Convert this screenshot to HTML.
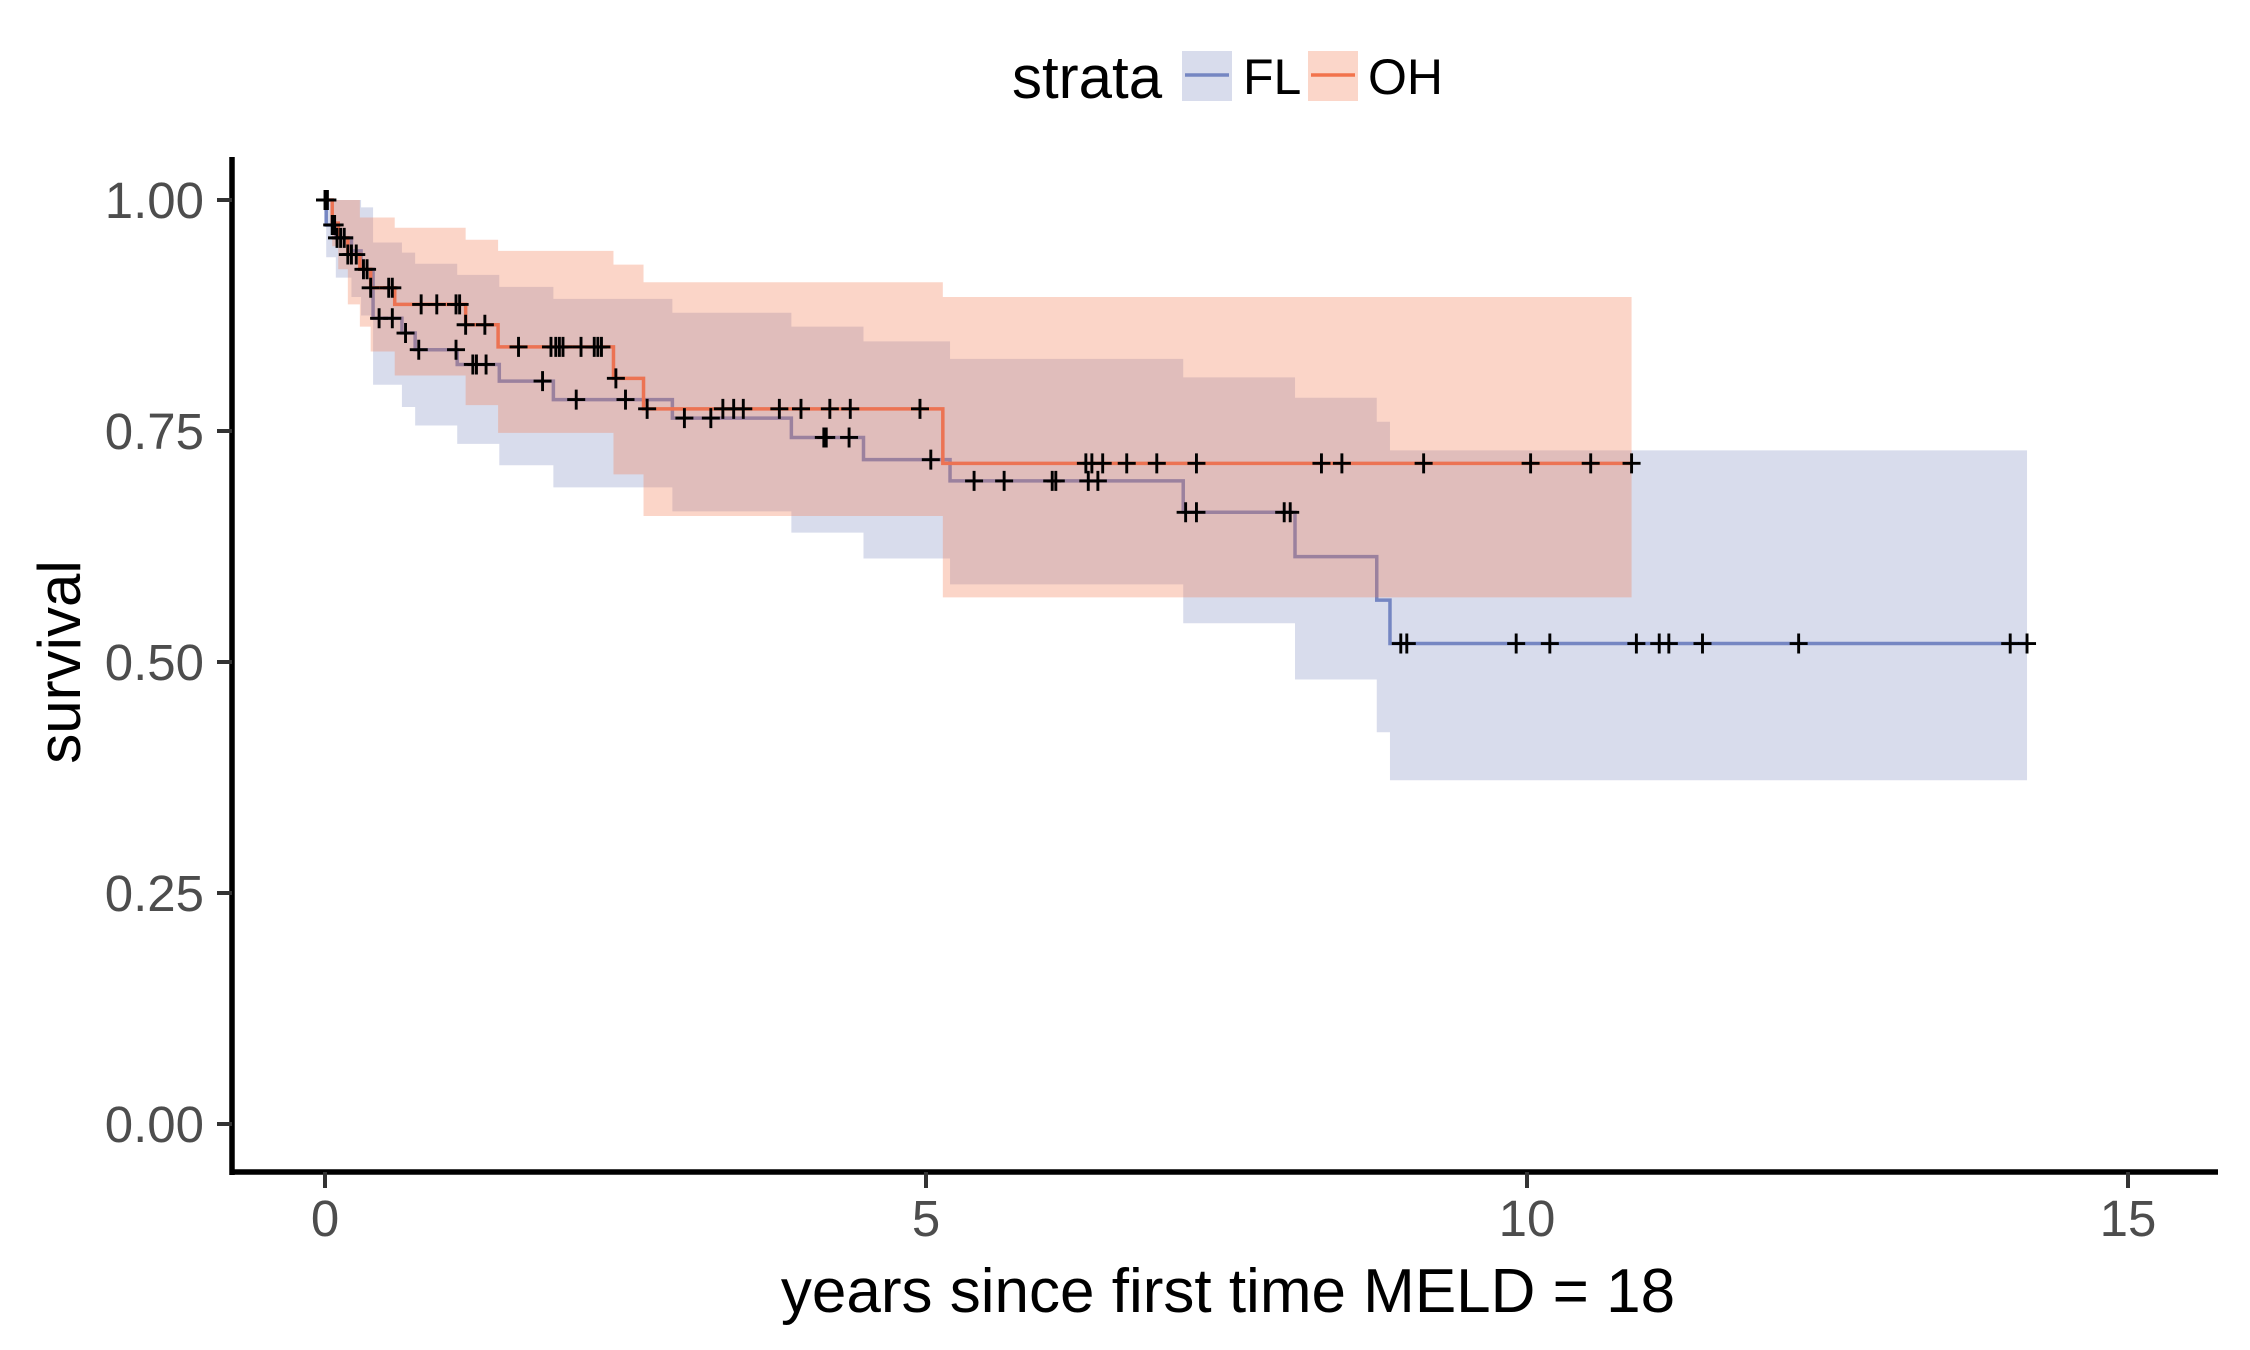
<!DOCTYPE html>
<html><head><meta charset="utf-8"><title>Survival by strata</title>
<style>
html,body{margin:0;padding:0;background:#fff;}
svg{display:block;font-family:"Liberation Sans",Arial,sans-serif;}
</style></head>
<body>
<svg id="chart" width="2250" height="1350" viewBox="0 0 2250 1350" xmlns="http://www.w3.org/2000/svg">
  <rect width="2250" height="1350" fill="#fff"/>
  <g id="ribbons"></g>
  <g id="lines"></g>
  <g id="censors"></g>
  <g id="axes"></g>
  <g>
    <text x="1012" y="98" font-size="60" fill="#000">strata</text>
    <g>
      <rect x="1182" y="51" width="50" height="50" fill="#d8dcec"/>
      <line x1="1185" y1="75" x2="1229" y2="75" stroke="#7586c2" stroke-width="3.5"/>
      <text x="1243" y="94" font-size="50" fill="#000">FL</text>
    </g>
    <g>
      <rect x="1308" y="51" width="50" height="50" fill="#fbd6c9"/>
      <line x1="1311" y1="75" x2="1355" y2="75" stroke="#f2734c" stroke-width="3.5"/>
      <text x="1368" y="94" font-size="50" fill="#000">OH</text>
    </g>
  </g>
  <text x="1228" y="1312" font-size="62" text-anchor="middle" fill="#000">years since first time MELD = 18</text>
  <text transform="translate(80,662) rotate(-90)" x="0" y="0" font-size="60" text-anchor="middle" fill="#000">survival</text>
</svg>
<script>
// ---- data ----
const flTime  = [0, 0.01, 0.09, 0.22, 0.30, 0.40, 0.64, 0.75, 1.10, 1.45, 1.90, 2.89, 3.88, 4.48, 5.20, 7.14, 8.07, 8.75, 8.86];
const flSurv  = [1, 0.973, 0.959, 0.945, 0.925, 0.872, 0.856, 0.838, 0.822, 0.804, 0.784, 0.764, 0.743, 0.719, 0.696, 0.662, 0.614, 0.567, 0.520];
const flUpper = [1, 1, 1, 1, 0.992, 0.954, 0.943, 0.931, 0.919, 0.906, 0.893, 0.878, 0.863, 0.847, 0.828, 0.808, 0.786, 0.760, 0.729];
const flLower = [1, 0.938, 0.916, 0.895, 0.875, 0.800, 0.776, 0.756, 0.736, 0.713, 0.689, 0.663, 0.640, 0.612, 0.584, 0.542, 0.481, 0.424, 0.372];
const flEnd = 14.16;
const flCensor = [0, 0.06, 0.08, 0.10, 0.13, 0.16, 0.32, 0.35, 0.45, 0.56, 0.67, 0.78, 1.09, 1.23, 1.26, 1.34, 1.81, 2.09, 2.50, 2.99, 3.21, 4.15, 4.17, 4.36, 5.04, 5.40, 5.65, 6.05, 6.08, 6.35, 6.43, 7.16, 7.25, 7.98, 8.03, 8.95, 9.00, 9.91, 10.19, 10.91, 11.10, 11.18, 11.46, 12.26, 14.02, 14.16];

const ohTime  = [0, 0.06, 0.11, 0.19, 0.29, 0.38, 0.58, 1.17, 1.44, 2.40, 2.65, 5.14];
const ohSurv  = [1, 0.975, 0.959, 0.941, 0.925, 0.905, 0.887, 0.865, 0.841, 0.807, 0.774, 0.715];
const ohUpper = [1, 1, 1, 1, 0.981, 0.981, 0.970, 0.957, 0.945, 0.930, 0.911, 0.895];
const ohLower = [1, 0.950, 0.925, 0.887, 0.863, 0.836, 0.810, 0.778, 0.748, 0.703, 0.658, 0.570];
const ohEnd = 10.87;
const ohCensor = [0.02, 0.19, 0.22, 0.26, 0.38, 0.53, 0.56, 0.80, 0.93, 1.09, 1.12, 1.17, 1.33, 1.61, 1.88, 1.92, 1.95, 1.98, 2.13, 2.24, 2.27, 2.30, 2.42, 2.68, 3.31, 3.40, 3.48, 3.78, 3.96, 4.20, 4.37, 4.95, 6.33, 6.38, 6.47, 6.67, 6.92, 7.25, 8.29, 8.46, 9.14, 10.03, 10.53, 10.87];

const xTicks = [0, 5, 10, 15];
const xTickLabels = ["0", "5", "10", "15"];
const yTicks = [0, 0.25, 0.5, 0.75, 1];
const yTickLabels = ["0.00", "0.25", "0.50", "0.75", "1.00"];

// ---- scales ----
const X0 = 325, XPER = 120.2;
const Y1 = 200, Y0 = 1124;
function xs(t){ return X0 + t * XPER; }
function ys(s){ return Y0 - s * (Y0 - Y1); }
const NS = "http://www.w3.org/2000/svg";
function mk(tag, attrs){ const e = document.createElementNS(NS, tag); for (const k in attrs) e.setAttribute(k, attrs[k]); return e; }

function stepPath(t, v, end){
  let d = "M" + xs(t[0]) + "," + ys(v[0]);
  for (let i = 1; i < t.length; i++) d += " H" + xs(t[i]) + " V" + ys(v[i]);
  d += " H" + xs(end);
  return d;
}
function ribbonPath(t, up, lo, end){
  let d = "M" + xs(t[0]) + "," + ys(up[0]);
  for (let i = 1; i < t.length; i++) d += " H" + xs(t[i]) + " V" + ys(up[i]);
  d += " H" + xs(end) + " V" + ys(lo[lo.length - 1]);
  for (let i = t.length - 1; i >= 1; i--) d += " H" + xs(t[i]) + " V" + ys(lo[i - 1]);
  d += " H" + xs(t[0]) + " Z";
  return d;
}
function stepVal(t, v, c){
  let val = v[0];
  for (let i = 0; i < t.length; i++) if (t[i] <= c) val = v[i];
  return val;
}

const rib = document.getElementById("ribbons");
const lines = document.getElementById("lines");
const cens = document.getElementById("censors");

const flRib = mk("path", {d: ribbonPath(flTime, flUpper, flLower, flEnd), fill: "rgb(129,142,194)", "fill-opacity": "0.31"});


rib.appendChild(flRib);

const flLine = mk("path", {d: stepPath(flTime, flSurv, flEnd), fill: "none", stroke: "#7586c2", "stroke-width": "3.5"});


rib.appendChild(flLine);

const ohRib = mk("path", {d: ribbonPath(ohTime, ohUpper, ohLower, ohEnd), fill: "rgb(242,119,77)", "fill-opacity": "0.31"});


rib.appendChild(ohRib);

const ohLine = mk("path", {d: stepPath(ohTime, ohSurv, ohEnd), fill: "none", stroke: "#ec7353", "stroke-width": "3.5"});


lines.appendChild(ohLine);

function drawCensors(times, t, v, name){
  times.forEach(function(c){
    const cx = xs(c), cy = ys(stepVal(t, v, c));
    const p = mk("path", {d: "M" + (cx - 9) + "," + cy + " H" + (cx + 9) + " M" + cx + "," + (cy - 10) + " V" + (cy + 10), stroke: "#000", "stroke-width": "2.9", fill: "none"});
    
    
    cens.appendChild(p);
  });
}
drawCensors(flCensor, flTime, flSurv, "censor-fl");
drawCensors(ohCensor, ohTime, ohSurv, "censor-oh");

// ---- axes ----
const axes = document.getElementById("axes");
const yAxis = mk("line", {x1: 232, y1: 157, x2: 232, y2: 1175, stroke: "#000", "stroke-width": "5.5"});


axes.appendChild(yAxis);
const xAxis = mk("line", {x1: 230, y1: 1172, x2: 2218, y2: 1172, stroke: "#000", "stroke-width": "5.5"});


axes.appendChild(xAxis);

yTicks.forEach(function(v, i){
  const y = ys(v);
  const tk = mk("line", {x1: 217, y1: y, x2: 232, y2: y, stroke: "#333", "stroke-width": "4"});
  
  
  axes.appendChild(tk);
  const lb = mk("text", {x: 204, y: y + 18, "font-size": "51", "text-anchor": "end", fill: "#4d4d4d"});
  lb.textContent = yTickLabels[i];
  
  
  axes.appendChild(lb);
});
xTicks.forEach(function(v, i){
  const x = xs(v);
  const tk = mk("line", {x1: x, y1: 1172, x2: x, y2: 1188, stroke: "#333", "stroke-width": "4"});
  
  
  axes.appendChild(tk);
  const lb = mk("text", {x: x, y: 1236, "font-size": "51", "text-anchor": "middle", fill: "#4d4d4d"});
  lb.textContent = xTickLabels[i];
  
  
  axes.appendChild(lb);
});
</script>
</body></html>
